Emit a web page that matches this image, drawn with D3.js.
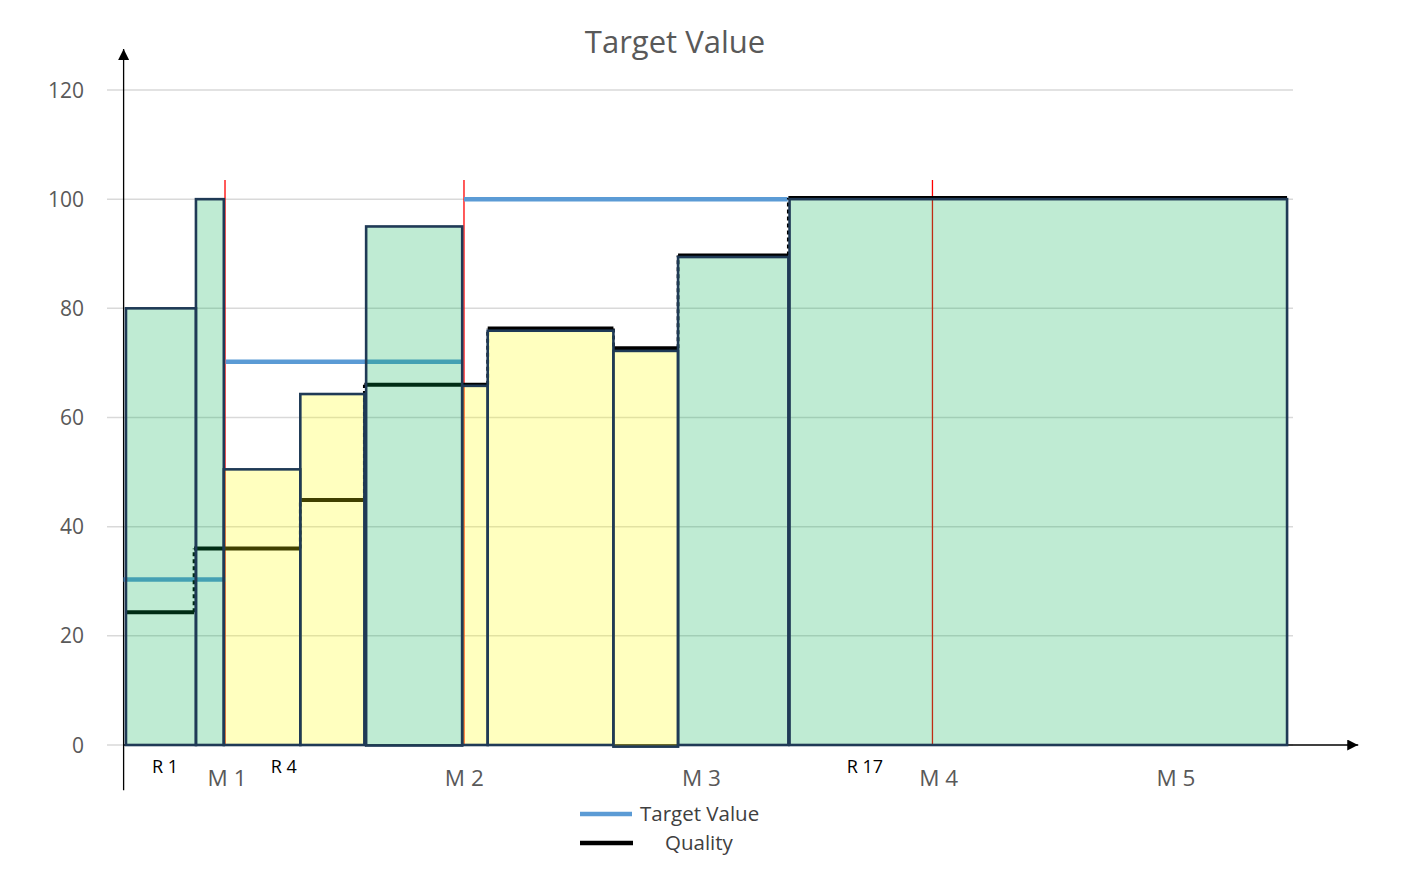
<!DOCTYPE html>
<html>
<head>
<meta charset="utf-8">
<script src="https://cdn.jsdelivr.net/npm/d3@7"></script>
<style>
  body { margin: 0; background: #fff; }
  svg { display: block; font-family: "Open Sans", sans-serif; }
</style>
</head>
<body>
<div id="chart"></div>
<script>
// bars (x in plan units 0..100)
const barStart = [1.6, 7.5, 9.85, 16.3, 21.85, 29.95, 32.1, 42.7, 48.15, 57.55];
const barEnd = [7.5, 9.85, 16.3, 21.7, 29.95, 32.1, 42.7, 48.15, 57.45, 99.5];
const barValue = [80, 100, 50.5, 64.3, 95, 65.8, 75.9, 72.2, 89.4, 100];
const barBase = [0, 0, 0, 0, -0.1, 0, 0, -0.3, 0, 0];
const barStatus = ["ok", "ok", "low", "low", "ok", "low", "low", "low", "ok", "ok"];

// quality step line
const qualityStart = [1.6, 7.34, 16.3, 21.7, 32.1, 42.7, 48.15, 57.45];
const qualityEnd = [7.34, 16.3, 21.7, 32.1, 42.7, 48.15, 57.45, 99.5];
const qualityValue = [24.3, 36.0, 44.9, 66.0, 76.3, 72.7, 89.7, 100.2];

// target value steps
const targetStart = [1.4, 10.0, 30.1];
const targetEnd = [10.0, 29.95, 57.4];
const targetValue = [30.3, 70.2, 100];

// milestones
const markerX = [9.95, 30.1, 69.6];
const markerTop = 103.5;
const milestoneLabels = ["M 1", "M 2", "M 3", "M 4", "M 5"];
const milestoneX = [10, 30, 50, 70, 90];
const releaseLabels = ["R 1", "R 4", "R 17"];
const releaseX = [4.9, 14.9, 63.9];

const yTicks = [0, 20, 40, 60, 80, 100, 120];

const width = 1403, height = 872;
const svg = d3.select("#chart").append("svg")
  .attr("width", width).attr("height", height);

const x = d3.scaleLinear().domain([0, 100]).range([107, 1293]);
const y = d3.scaleLinear().domain([0, 120]).range([745, 90]);

svg.append("defs").append("marker")
  .attr("id", "arrow").attr("viewBox", "0 0 10 10")
  .attr("refX", 10).attr("refY", 5)
  .attr("markerWidth", 11).attr("markerHeight", 11)
  .attr("markerUnits", "userSpaceOnUse")
  .attr("orient", "auto")
  .append("path").attr("d", "M0,0L10,5L0,10Z").attr("fill", "#000");

// title
svg.append("text")
  .attr("x", 675).attr("y", 53)
  .attr("text-anchor", "middle")
  .attr("font-size", 31).attr("fill", "#595959")
  .text("Target Value");

// gridlines
svg.append("g").selectAll("line").data(yTicks).join("line")
  .attr("x1", x(0)).attr("x2", x(100))
  .attr("y1", d => y(d)).attr("y2", d => y(d))
  .attr("stroke", "#d9d9d9").attr("stroke-width", 1.5);

// y tick labels
svg.append("g").selectAll("text").data(yTicks).join("text")
  .attr("x", 84).attr("y", d => y(d) + 7.5)
  .attr("text-anchor", "end")
  .attr("font-size", 21).attr("fill", "#595959")
  .text(d => d);

// axes with arrows
svg.append("line")
  .attr("x1", x(1.4)).attr("x2", x(105.5))
  .attr("y1", y(0)).attr("y2", y(0))
  .attr("stroke", "#000").attr("stroke-width", 1.3)
  .attr("marker-end", "url(#arrow)");
svg.append("line")
  .attr("x1", x(1.4)).attr("x2", x(1.4))
  .attr("y1", y(-8.3)).attr("y2", y(127.5))
  .attr("stroke", "#000").attr("stroke-width", 1.3)
  .attr("marker-end", "url(#arrow)");

// milestone markers
svg.append("g").selectAll("line").data(markerX).join("line")
  .attr("x1", d => x(d)).attr("x2", d => x(d))
  .attr("y1", y(markerTop)).attr("y2", y(0))
  .attr("stroke", "#ff0000").attr("stroke-width", 1.3);

// target value line
svg.append("g").selectAll("line").data(targetValue).join("line")
  .attr("x1", (d, i) => x(targetStart[i])).attr("x2", (d, i) => x(targetEnd[i]))
  .attr("y1", d => y(d)).attr("y2", d => y(d))
  .attr("stroke", "#5b9bd5").attr("stroke-width", 4.5);

// quality line
svg.append("g").selectAll("line").data(qualityValue).join("line")
  .attr("x1", (d, i) => x(qualityStart[i])).attr("x2", (d, i) => x(qualityEnd[i]))
  .attr("y1", d => y(d)).attr("y2", d => y(d))
  .attr("stroke", "#000").attr("stroke-width", 4);
svg.append("g").selectAll("line").data(qualityValue.slice(1)).join("line")
  .attr("x1", (d, i) => x(qualityEnd[i])).attr("x2", (d, i) => x(qualityEnd[i]))
  .attr("y1", (d, i) => y(qualityValue[i])).attr("y2", d => y(d))
  .attr("stroke", "#000").attr("stroke-width", 2.8)
  .attr("stroke-dasharray", "4 3");

// bars
svg.append("g").selectAll("rect").data(barValue).join("rect")
  .attr("x", (d, i) => x(barStart[i]))
  .attr("width", (d, i) => x(barEnd[i]) - x(barStart[i]))
  .attr("y", d => y(d))
  .attr("height", (d, i) => y(barBase[i]) - y(d))
  .attr("fill", (d, i) => barStatus[i] === "ok" ? "#00b050" : "#ffff00")
  .attr("fill-opacity", 0.25)
  .attr("stroke", "#1f3a56").attr("stroke-width", 2.6);

// release labels
svg.append("g").selectAll("text").data(releaseLabels).join("text")
  .attr("x", (d, i) => x(releaseX[i])).attr("y", 773)
  .attr("text-anchor", "middle")
  .attr("font-size", 18).attr("fill", "#000")
  .text(d => d);

// milestone labels
svg.append("g").selectAll("text").data(milestoneLabels).join("text")
  .attr("x", (d, i) => x(milestoneX[i]) + 1.5).attr("y", 786)
  .attr("text-anchor", "middle")
  .attr("font-size", 22.5).attr("fill", "#595959")
  .text(d => d);

// legend
const legend = svg.append("g");
legend.append("line").attr("x1", 580).attr("x2", 632).attr("y1", 814).attr("y2", 814)
  .attr("stroke", "#5b9bd5").attr("stroke-width", 4.5);
legend.append("text").attr("x", 640).attr("y", 821)
  .attr("font-size", 20.5).attr("fill", "#404040").text("Target Value");
legend.append("line").attr("x1", 580).attr("x2", 633).attr("y1", 843).attr("y2", 843)
  .attr("stroke", "#000").attr("stroke-width", 4.5);
legend.append("text").attr("x", 665).attr("y", 850)
  .attr("font-size", 20.5).attr("fill", "#404040").text("Quality");
</script>
</body>
</html>
